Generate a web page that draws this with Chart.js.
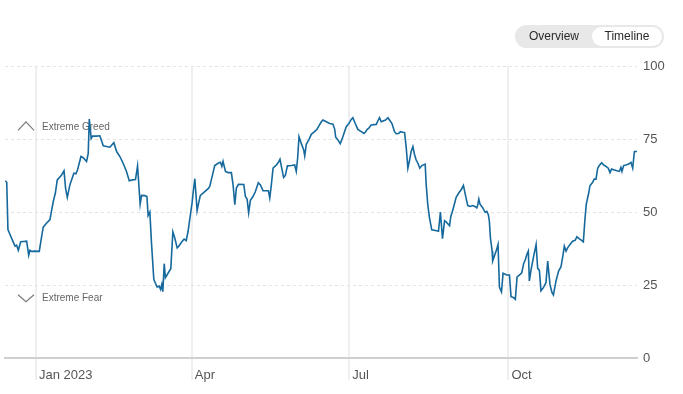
<!DOCTYPE html>
<html>
<head>
<meta charset="utf-8">
<script src="https://cdn.jsdelivr.net/npm/chart.js@4.4.1/dist/chart.umd.min.js"></script>
<style>
  html, body { margin: 0; padding: 0; background: #fff; }
  #wrap { position: relative; width: 683px; height: 394px; overflow: hidden; }
  #toggle { position: absolute; left: 515px; top: 25px; width: 149px; height: 23px; background: #e8e8e8; border-radius: 12px;
            font-family: "Liberation Sans", Arial, sans-serif; font-size: 12px; color: #2a2a2a; }
  #toggle .ov { position: absolute; left: 14px; top: 0; line-height: 23px; }
  #toggle .tl { position: absolute; left: 77px; top: 2px; width: 70px; height: 19px; line-height: 19px; background: #fff; border-radius: 10px; text-align: center; }
</style>
</head>
<body>
<div id="wrap">
  <canvas id="c" width="683" height="394"></canvas>
  <div id="toggle"><span class="ov">Overview</span><span class="tl">Timeline</span></div>
</div>
<script>
// Days since 2023-01-01 and Fear & Greed index values
const dayOffsets = [
-17.7,-16.9,-16.2,-15.0,-13.5,-12.1,-11.2,-10.2,-8.8,-7.3,-5.4,-4.2,-3.5,-2.5,-1.2,1.9,3.3,4.2,5.8,8.1,9.0,10.0,11.2,12.3,14.8,16.2,17.1,18.1,19.6,21.9,23.1,24.0,26.0,27.3,29.2,30.2,30.8,31.9,32.7,35.0,36.9,38.9,40.8,42.7,
45.0,46.6,48.5,50.8,52.3,53.9,55.8,57.5,58.7,60.2,61.0,62.9,64.1,64.8,65.8,66.8,68.1,69.1,70.0,71.2,72.0,72.7,73.3,74.1,74.8,76.4,77.9,79.1,80.2,81.6,82.5,84.5,85.6,86.8,87.9,89.5,90.2,91.0,91.8,93.1,94.1,95.0,97.2,99.5,100.4,101.8,103.3,
105.2,106.6,107.4,108.1,109.5,111.0,112.9,113.9,114.9,115.8,117.0,120.1,121.0,122.0,122.9,123.9,125.4,126.8,128.5,129.7,131.2,134.3,135.1,136.0,137.0,138.9,140.1,141.0,142.0,143.1,144.1,145.3,147.6,149.5,150.4,151.2,152.0,153.3,154.7,155.3,156.2,157.8,159.1,161.0,162.4,163.5,
164.9,165.8,167.8,169.7,171.6,172.6,173.2,174.5,175.8,177.0,178.3,179.3,180.8,182.2,183.1,184.5,186.0,188.0,189.5,190.5,191.4,192.2,193.7,196.6,197.6,198.5,199.5,200.9,202.0,203.4,204.3,205.7,207.2,208.2,209.5,210.7,212.0,213.0,213.9,214.9,215.9,216.8,217.8,218.7,219.7,220.7,221.8,223.0,
224.9,225.5,226.4,227.4,228.7,231.6,232.6,233.7,234.9,236.1,237.0,239.0,239.7,240.5,241.4,242.8,244.3,245.9,247.0,248.2,249.5,250.9,252.4,253.6,254.7,255.3,255.9,256.6,258.2,259.5,260.5,261.4,262.0,262.6,263.6,263.9,264.9,265.9,267.0,267.8,269.0,269.9,272.0,273.6,274.5,275.9,277.0,278.0,279.3,280.7,281.8,282.8,283.7,284.5,
285.1,286.1,287.4,289.0,289.9,290.9,291.8,293.2,294.7,295.7,297.0,298.2,299.0,300.5,302.0,303.4,304.6,305.3,306.3,307.2,308.6,310.1,311.5,312.6,314.0,315.3,316.3,317.2,318.0,319.4,320.1,321.7,322.6,323.6,324.6,325.5,326.9,328.0,329.4,330.7,331.7,332.6,334.2,335.7,337.1,338.0,338.6,339.6,340.9,342.5,343.8,344.8,345.8,347.3
];
const indexValues = [
60.7,60.2,44.0,42.3,40.2,38.3,38.6,36.9,39.8,39.9,40.0,35.2,36.9,36.5,36.6,36.5,41.7,44.8,46.0,47.4,50.5,53.6,56.5,61.0,62.7,64.1,58.2,55.0,59.3,63.3,63.1,64.4,69.0,68.6,67.3,70.1,81.8,75.2,76.0,76.0,76.1,72.7,72.4,72.2,
73.75,70.7,69.0,66.1,63.9,60.7,61.0,61.1,65.8,52.7,55.7,55.6,55.3,48.75,50.0,38.9,26.9,25.5,24.3,24.6,23.5,25.2,22.7,32.3,27.5,29.1,30.6,43.2,41.1,37.7,38.3,40.0,40.7,40.2,43.4,50.2,53.1,57.6,61.4,50.5,53.4,55.7,56.8,58.0,58.75,62.2,65.9,
66.7,67.0,65.6,67.3,63.9,63.5,63.5,59.3,52.5,58.2,59.5,59.4,55.3,54.4,49.7,54.0,55.3,57.0,60.0,59.3,57.3,57.3,54.8,59.3,65.0,66.1,67.0,68.1,65.0,61.8,62.5,65.8,65.9,66.1,63.9,68.4,75.8,73.5,71.25,69.2,73.2,74.9,76.6,77.5,78.3,79.5,
80.9,81.5,80.9,80.3,80.1,78.4,75.6,74.7,73.4,75.2,77.5,79.2,80.3,81.7,82.3,80.3,78.3,77.5,76.9,77.5,78.3,78.6,79.8,80.0,81.25,82.3,80.9,81.25,81.5,82.3,81.5,80.3,77.5,76.8,76.9,77.5,77.3,77.2,72.4,65.0,67.8,70.7,72.4,69.8,67.8,66.7,65.0,65.9,
66.4,59.3,52.5,48.0,43.9,43.6,43.4,50.0,40.9,47.0,46.6,45.3,48.5,49.9,51.9,55.0,56.5,57.8,59.1,55.7,52.2,51.9,52.2,51.9,51.4,52.5,54.4,52.7,51.4,49.9,50.2,49.1,46.8,41.1,36.6,33.2,34.9,36.6,38.9,24.3,22.6,29.0,28.4,28.4,21.0,20.7,20.1,27.8,28.4,29.2,32.3,33.75,35.5,36.6,
26.4,30.3,34.3,38.9,30.7,30.0,23.0,24.1,25.8,33.2,25.2,22.4,21.6,26.4,29.8,31.25,35.5,38.3,36.6,37.7,38.9,40.0,40.3,41.5,40.8,40.3,39.8,47.4,52.7,56.5,59.0,60.2,61.25,61.25,65.0,65.9,66.9,66.1,65.6,65.0,63.5,64.7,64.4,64.1,63.9,65.3,63.9,65.9,66.1,66.4,67.0,65.0,70.7,70.7
];
const xTickDays = [0, 90, 181, 273];
const xTickLabels = ['Jan 2023', 'Apr', 'Jul', 'Oct'];
const yTickValues = [0, 25, 50, 75, 100];
const zoneNames = ['Extreme Greed', 'Extreme Fear'];
const zoneLevels = [75, 25];

const points = dayOffsets.map((d, i) => ({ x: d, y: indexValues[i] }));

const zonePlugin = {
  id: 'zones',
  beforeDatasetsDraw(chart) {
    const ctx = chart.ctx;
    const ys = chart.scales.y;
    ctx.save();
    ctx.font = '10px "Liberation Sans", Arial, sans-serif';
    ctx.fillStyle = '#666';
    ctx.strokeStyle = '#7a7a7a';
    ctx.lineWidth = 1.2;
    ctx.textBaseline = 'middle';
    ctx.textAlign = 'left';
    zoneNames.forEach((name, i) => {
      const yl = ys.getPixelForValue(zoneLevels[i]);
      const up = zoneLevels[i] > 50;
      ctx.beginPath();
      if (up) {
        ctx.moveTo(18, yl - 8.6); ctx.lineTo(26, yl - 17.2); ctx.lineTo(34, yl - 8.6);
        ctx.stroke();
        ctx.fillText(name, 42, yl - 12);
      } else {
        ctx.moveTo(18, yl + 9.7); ctx.lineTo(26, yl + 16.6); ctx.lineTo(34, yl + 9.7);
        ctx.stroke();
        ctx.fillText(name, 42, yl + 13.5);
      }
    });
    ctx.restore();
  }
};

new Chart(document.getElementById('c'), {
  type: 'line',
  data: {
    datasets: [{
      data: points,
      borderColor: '#15699d',
      borderWidth: 1.6,
      pointRadius: 0,
      tension: 0,
      fill: false
    }]
  },
  options: {
    responsive: false,
    animation: false,
    devicePixelRatio: 1,
    layout: { padding: { left: 5, top: 66, right: 0, bottom: 0 } },
    plugins: { legend: { display: false }, tooltip: { enabled: false } },
    scales: {
      x: {
        type: 'linear',
        position: 'bottom',
        min: -17.9,
        max: 347.3,
        afterBuildTicks: (s) => { s.ticks = xTickDays.map(v => ({ value: v })); },
        afterFit: (s) => { s.height = 36; },
        ticks: {
          autoSkip: false,
          maxRotation: 0,
          labelOffset: 3,
          align: 'start',
          padding: -12,
          color: '#555',
          font: { family: '"Liberation Sans", Arial, sans-serif', size: 13 },
          callback: (v) => { const i = xTickDays.indexOf(v); return i >= 0 ? xTickLabels[i] : ''; }
        },
        grid: { color: '#efefef', lineWidth: 2, tickLength: 22, drawTicks: true },
        border: { display: true, color: '#cfcfcf', width: 2 }
      },
      y: {
        position: 'right',
        min: 0,
        max: 100,
        afterBuildTicks: (s) => { s.ticks = yTickValues.map(v => ({ value: v })); },
        afterFit: (s) => { s.width = 46; },
        ticks: {
          padding: 6,
          color: '#555',
          font: { family: '"Liberation Sans", Arial, sans-serif', size: 13 }
        },
        grid: {
          drawTicks: false,
          color: (c) => (c.tick && c.tick.value === 0) ? 'rgba(0,0,0,0)' : '#e4e4e4',
          lineWidth: 1
        },
        border: { display: false, dash: [3, 3] }
      }
    }
  },
  plugins: [zonePlugin]
});
</script>
</body>
</html>
